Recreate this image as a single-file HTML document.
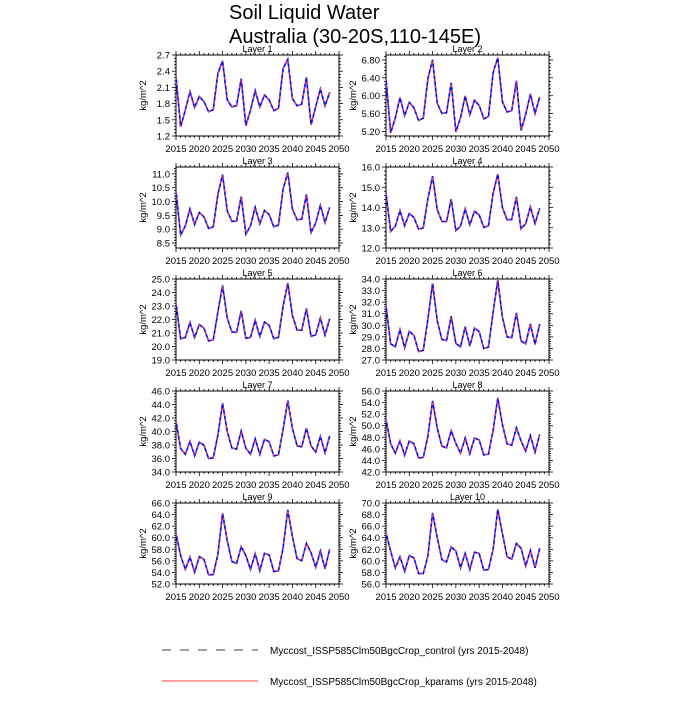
<!DOCTYPE html>
<html><head><meta charset="utf-8"><style>
body{margin:0;background:#fff;}
svg text{font-family:"Liberation Sans",Arial,sans-serif;fill:#000;}
</style></head><body>
<svg id="s" width="700" height="700" xmlns="http://www.w3.org/2000/svg">
<text x="229" y="19" font-size="20">Soil Liquid Water</text>
<text x="229" y="43" font-size="20">Australia (30-20S,110-145E)</text>
<line x1="162" y1="650" x2="258" y2="650" stroke="#000" stroke-width="0.8" stroke-dasharray="9,9"/>
<text x="270" y="654" font-size="10">Myccost_ISSP585Clm50BgcCrop_control (yrs 2015-2048)</text>
<line x1="162" y1="681" x2="258" y2="681" stroke="#f00" stroke-width="0.8"/>
<text x="270" y="685" font-size="10">Myccost_ISSP585Clm50BgcCrop_kparams (yrs 2015-2048)</text>
</svg>
<script>
var A=[2.30,1.37,1.68,2.02,1.73,1.93,1.84,1.65,1.69,2.36,2.59,1.87,1.74,1.76,2.26,1.39,1.68,2.04,1.74,1.96,1.87,1.67,1.71,2.45,2.62,1.89,1.76,1.79,2.29,1.41,1.74,2.07,1.76,2.01];
var B=[64.8,61.7,58.8,60.7,58.2,60.9,60.5,57.8,57.8,60.9,68.3,64.0,60.2,59.8,62.4,61.7,58.8,61.3,58.5,61.5,61.3,58.4,58.5,62.0,68.9,64.7,60.7,60.3,63.0,62.2,59.1,61.8,58.8,62.2];
function norm(a){var mn=Math.min.apply(0,a),mx=Math.max.apply(0,a);return a.map(function(v){return (v-mn)/(mx-mn);});}
var nA=norm(A),nB=norm(B);
var L=[
 {lo:1.2,hi:2.7,t0:1.2,st:0.3,n:6,d:1,mn:1.37,mx:2.62},
 {lo:5.1,hi:6.91,t0:5.2,st:0.4,n:5,d:2,mn:5.1,mx:6.85},
 {lo:8.32,hi:11.25,t0:8.5,st:0.5,n:6,d:1,mn:8.6,mx:11.05},
 {lo:12,hi:16,t0:12,st:1,n:5,d:1,mn:12.45,mx:15.65},
 {lo:19,hi:25,t0:19,st:1,n:7,d:1,mn:19.8,mx:24.7},
 {lo:27,hi:34,t0:27,st:1,n:8,d:1,mn:27.05,mx:33.9},
 {lo:34,hi:46,t0:34,st:2,n:7,d:1,mn:35.3,mx:44.6},
 {lo:42,hi:56,t0:42,st:2,n:8,d:1,mn:43.9,mx:54.8},
 {lo:52,hi:66,t0:52,st:2,n:8,d:1,mn:53.3,mx:64.8},
 {lo:56,hi:70,t0:56,st:2,n:8,d:1,mn:57.8,mx:68.9}];
var s='';
for(var k=0;k<10;k++){
 var c=L[k],col=k%2,row=Math.floor(k/2);
 var x0=col?386:176,x1=x0+163,y0=55+row*112,y1=y0+81;
 var W=x1-x0,H=y1-y0;
 function X(yr){return x0+(yr-2015)/35*W;}
 function Y(v){return y1-(v-c.lo)/(c.hi-c.lo)*H;}
 s+='<text x="'+(x0+W/2)+'" y="'+(y0-3)+'" font-size="9" text-anchor="middle">Layer '+(k+1)+'</text>';
 s+='<rect x="'+x0+'" y="'+y0+'" width="'+W+'" height="'+H+'" fill="none" stroke="#000" stroke-width="1"/>';
 // x ticks
 for(var yr=2015;yr<=2050;yr++){
  var mj=(yr%5==0),len=mj?4:2,xx=X(yr).toFixed(2);
  s+='<line x1="'+xx+'" y1="'+y1+'" x2="'+xx+'" y2="'+(y1+len)+'" stroke="#000" stroke-width="0.8"/>';
  s+='<line x1="'+xx+'" y1="'+y0+'" x2="'+xx+'" y2="'+(y0-len)+'" stroke="#000" stroke-width="0.8"/>';
  if(mj)s+='<text x="'+xx+'" y="'+(y1+16)+'" font-size="9.5" text-anchor="middle">'+yr+'</text>';
 }
 // y ticks
 var mst=c.st/5;
 for(var v=c.t0-c.st;v<=c.hi+1e-9;v+=mst){
  if(v<c.lo-1e-9)continue;
  var idx=Math.round((v-c.t0)/mst),mj=(idx%5==0),len=mj?4:2,yy=Y(v).toFixed(2);
  s+='<line x1="'+x0+'" y1="'+yy+'" x2="'+(x0-len)+'" y2="'+yy+'" stroke="#000" stroke-width="0.8"/>';
  s+='<line x1="'+x1+'" y1="'+yy+'" x2="'+(x1+len)+'" y2="'+yy+'" stroke="#000" stroke-width="0.8"/>';
 }
 for(var i=0;i<c.n;i++){var v=c.t0+i*c.st;
  s+='<text x="'+(x0-6)+'" y="'+(Y(v)+3.5).toFixed(2)+'" font-size="9.5" text-anchor="end">'+v.toFixed(c.d)+'</text>';}
 var lx=x0-30,ly=y0+H/2;
 s+='<text x="'+lx+'" y="'+ly+'" font-size="9.5" text-anchor="middle" transform="rotate(-90 '+lx+' '+ly+')">kg/m^2</text>';
 var t=k/9,p=[];
 for(var i=0;i<34;i++){var n=(1-t)*nA[i]+t*nB[i];var v=c.mn+(c.mx-c.mn)*n;p.push(X(2015+i).toFixed(2)+','+Y(v).toFixed(2));}
 s+='<polyline points="'+p.join(' ')+'" fill="none" stroke="#00f" stroke-width="1.6"/>';
 s+='<polyline points="'+p.join(' ')+'" fill="none" stroke="#f44" stroke-width="1" stroke-dasharray="3,3"/>';
}
document.getElementById('s').insertAdjacentHTML('beforeend',s);
</script>
</body></html>
